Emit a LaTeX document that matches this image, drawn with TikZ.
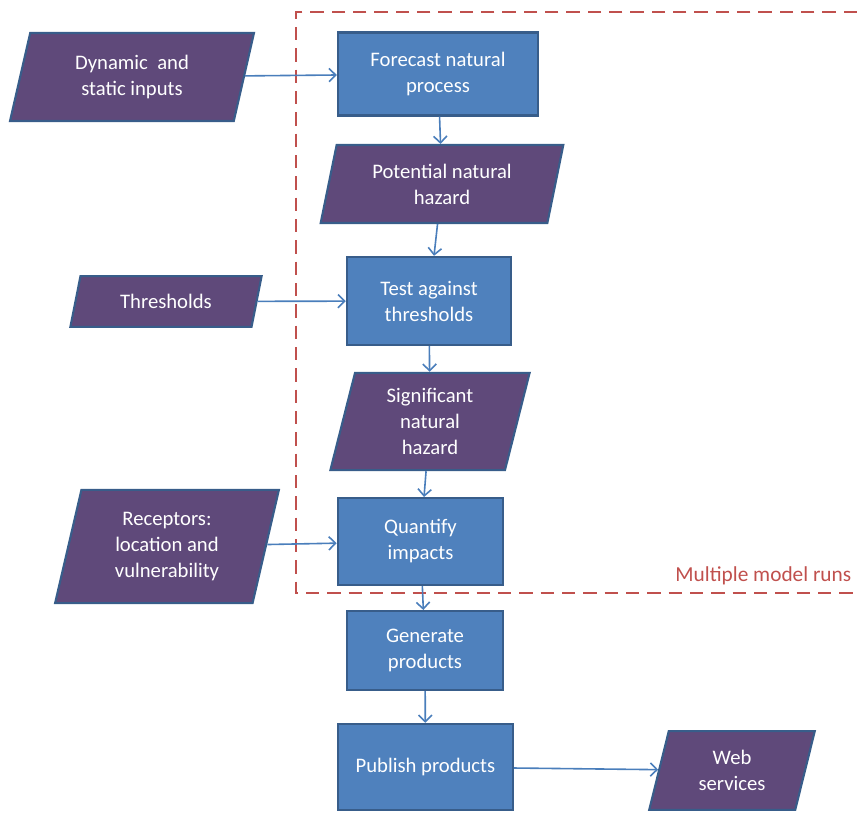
\documentclass[tikz,border=0pt]{standalone}
\usepackage{fontspec}
\setmainfont{Carlito}
\usepackage{tikz}
\usetikzlibrary{arrows.meta, shapes.geometric}
\usepackage{xcolor}
\definecolor{procfill}{HTML}{4F81BD}
\definecolor{procline}{HTML}{385D8A}
\definecolor{datafill}{HTML}{5F497A}
\definecolor{flowline}{HTML}{4A7EBB}
\definecolor{runsred}{HTML}{C0504D}

\begin{document}
\begin{tikzpicture}[x=0.75pt, y=-0.75pt,
  process/.style={rectangle, draw=procline, fill=procfill, line width=1.8pt,
                  text=white, font=\fontsize{15.5}{19.5}\selectfont, align=center, inner sep=2pt},
  data/.style={trapezium, trapezium left angle=76, trapezium right angle=104,
               trapezium stretches=true, draw=procline, fill=datafill, line width=1.6pt,
               text=white, font=\fontsize{15.5}{19.5}\selectfont, align=center, inner sep=1pt},
  arrow/.style={-{Straight Barb[length=5pt, width=10pt]}, draw=flowline, line width=1.2pt},
  runs/.style={draw=runsred, line width=1.8pt, dash pattern=on 10pt off 6pt}
]
  \useasboundingbox (0,0) rectangle (857,818);

  \draw[runs] (857,12) -| (296,593) -- (857,593);
  \node[text=runsred, font=\fontsize{16}{18}\selectfont, anchor=east] (runslabel) at (856,576) {Multiple model runs};

  \node[data, minimum width=183pt, minimum height=66pt] (inputs) at (132,77) {Dynamic~ and\\static inputs};
  \node[process, minimum width=150pt, minimum height=62pt] (forecast) at (438,74) {Forecast natural\\process};
  \node[data, minimum width=182pt, minimum height=58.5pt] (potential) at (442,184) {Potential natural\\hazard};
  \node[process, minimum width=123pt, minimum height=66pt] (test) at (429,301) {Test against\\thresholds};
  \node[data, minimum width=144pt, minimum height=38pt, trapezium left angle=72, trapezium right angle=108] (thresholds) at (166,301.5) {Thresholds};
  \node[data, minimum width=150pt, minimum height=73pt, trapezium left angle=78, trapezium right angle=102] (significant) at (430,421.5) {Significant\\natural\\hazard};
  \node[process, minimum width=124pt, minimum height=65pt] (quantify) at (420.5,541.5) {Quantify\\impacts};
  \node[data, minimum width=168pt, minimum height=85pt, trapezium left angle=77, trapezium right angle=103] (receptors) at (167,546.5) {Receptors:\\location and\\vulnerability};
  \node[process, minimum width=117pt, minimum height=59pt] (generate) at (425,650.5) {Generate\\products};
  \node[process, minimum width=131pt, minimum height=64.5pt] (publish) at (425.5,767) {Publish products};
  \node[data, minimum width=124.5pt, minimum height=59pt] (web) at (732,770.5) {Web\\services};

  \draw[arrow] (inputs) -- (forecast);
  \draw[arrow] (forecast) -- (potential);
  \draw[arrow] (potential) -- (test);
  \draw[arrow] (thresholds) -- (test);
  \draw[arrow] (test) -- (significant);
  \draw[arrow] (significant) -- (quantify);
  \draw[arrow] (receptors) -- (quantify);
  \draw[arrow] (quantify) -- (generate);
  \draw[arrow] (generate) -- (publish);
  \draw[arrow] (publish) -- (web);
\end{tikzpicture}
\end{document}
